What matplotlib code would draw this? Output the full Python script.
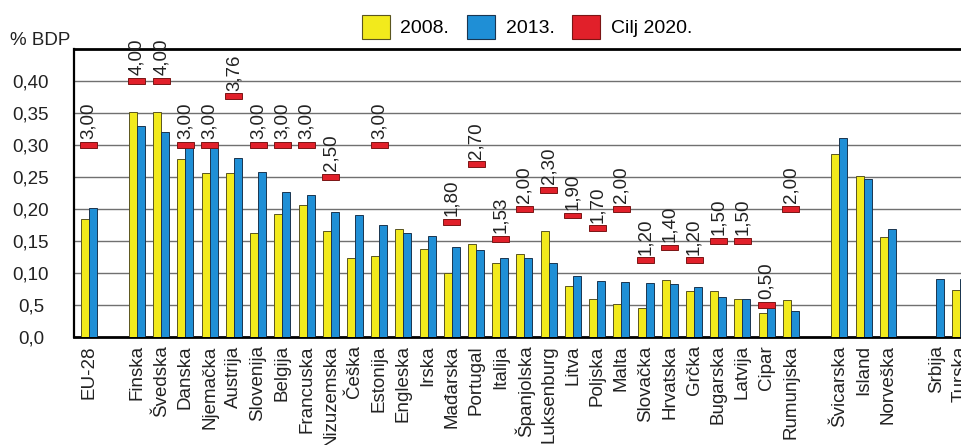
import matplotlib
matplotlib.use('Agg')
import matplotlib.pyplot as plt
from matplotlib.patches import Patch
import numpy as np

plt.rcParams['font.family'] = ['Liberation Sans', 'DejaVu Sans']

countries = ['EU-28', None, 'Finska', 'Švedska', 'Danska', 'Njemačka', 'Austrija',
             'Slovenija', 'Belgija', 'Francuska', 'Nizuzemska', 'Češka', 'Estonija',
             'Engleska', 'Irska', 'Mađarska', 'Portugal', 'Italija', 'Španjolska',
             'Luksenburg', 'Litva', 'Poljska', 'Malta', 'Slovačka', 'Hrvatska',
             'Grčka', 'Bugarska', 'Latvija', 'Cipar', 'Rumunjska', None,
             'Švicarska', 'Island', 'Norveška', None, 'Srbija', 'Turska']

y2008 = [0.184, None, 0.351, 0.352, 0.278, 0.257, 0.256, 0.163, 0.192, 0.206,
         0.166, 0.124, 0.127, 0.169, 0.137, 0.100, 0.145, 0.116, 0.130, 0.165,
         0.080, 0.060, 0.052, 0.046, 0.089, 0.072, 0.072, 0.059, 0.038, 0.058,
         None, 0.286, 0.252, 0.157, None, 0.0, 0.073]
y2013 = [0.201, None, 0.330, 0.320, 0.297, 0.296, 0.279, 0.258, 0.227, 0.222,
         0.196, 0.191, 0.175, 0.163, 0.158, 0.140, 0.136, 0.124, 0.123, 0.115,
         0.096, 0.088, 0.086, 0.084, 0.083, 0.078, 0.063, 0.059, 0.048, 0.040,
         None, 0.311, 0.247, 0.168, None, 0.090, 0.090]
# cilj 2020. u % BDP (crta se na razini cilj/10)
cilj = [3.00, None, 4.00, 4.00, 3.00, 3.00, 3.76, 3.00, 3.00, 3.00, 2.50, None,
        3.00, None, None, 1.80, 2.70, 1.53, 2.00, 2.30, 1.90, 1.70, 2.00, 1.20,
        1.40, 1.20, 1.50, 1.50, 0.50, 2.00, None, None, None, None, None, None, None]

yticks = [0.0, 0.05, 0.10, 0.15, 0.20, 0.25, 0.30, 0.35, 0.40]
ytick_labels = ['0,0', '0,5', '0,10', '0,15', '0,20', '0,25', '0,30', '0,35', '0,40']

yellow = '#f2ea1c'
blue = '#1f8fd6'
red = '#e1202a'
txt = '#222222'

fig = plt.figure(figsize=(9.62, 4.45), dpi=100)
ax = fig.add_axes([74 / 962, 108 / 445, (985 - 74) / 962, 288 / 445])

x = np.arange(len(countries))
w = 0.33
idx = [i for i, c in enumerate(countries) if c is not None]
ax.bar(x[idx] - w / 2, [y2008[i] for i in idx], w, color=yellow,
       edgecolor='#5a5520', linewidth=0.7, zorder=3)
ax.bar(x[idx] + w / 2, [y2013[i] for i in idx], w, color=blue,
       edgecolor='#1a3550', linewidth=0.7, zorder=3)

ci = [i for i, c in enumerate(cilj) if c is not None]
h = 0.009
ax.bar(x[ci], [h] * len(ci), 0.7, bottom=[cilj[i] / 10 - h / 2 for i in ci],
       color=red, edgecolor='#7a1515', linewidth=0.7, zorder=4)
for i in ci:
    ax.annotate('{:.2f}'.format(cilj[i]).replace('.', ','),
                (x[i], cilj[i] / 10 + h / 2), xytext=(0, 2),
                textcoords='offset points', rotation=90, ha='center',
                va='bottom', fontsize=13.5, color=txt, zorder=5)

ax.set_xlim(-0.6, -0.6 + (985 - 74) / 24.22)
ax.set_ylim(0, 0.45)
ax.set_yticks(yticks)
ax.set_yticklabels(ytick_labels, fontsize=13.5, color=txt)
for lab in ax.get_yticklabels():
    lab.set_horizontalalignment('center')
ax.tick_params(axis='y', length=0, pad=31)
ax.set_xticks(x[idx])
ax.set_xticklabels([countries[i] for i in idx], rotation=90, fontsize=13.5,
                   color=txt, va='top', ha='center')
ax.tick_params(axis='x', length=0, pad=6)
for lab in ax.get_xticklabels():
    lab.set_rotation_mode('default')

for yv in yticks[1:]:
    ax.axhline(yv, color='#707070', linewidth=1.0, zorder=1)

for s in ['top', 'bottom']:
    ax.spines[s].set_linewidth(2.0)
ax.spines['left'].set_linewidth(1.6)
ax.spines['right'].set_visible(False)

fig.text(10 / 962, 1 - 45 / 445, '% BDP', fontsize=13.5, color=txt, va='baseline')

handles = [Patch(facecolor=yellow, edgecolor='#5a5520', linewidth=0.8),
           Patch(facecolor=blue, edgecolor='#1a3550', linewidth=0.8),
           Patch(facecolor=red, edgecolor='#7a1515', linewidth=0.8)]
fig.legend(handles, ['2008.', '2013.', 'Cilj 2020.'], loc='center',
           bbox_to_anchor=(527 / 962, 1 - 27 / 445), ncol=3, frameon=False,
           fontsize=14, handlelength=1.45, handleheight=1.45,
           handletextpad=0.55, columnspacing=0.9, borderpad=0)

fig.savefig('out.png', dpi=100)
